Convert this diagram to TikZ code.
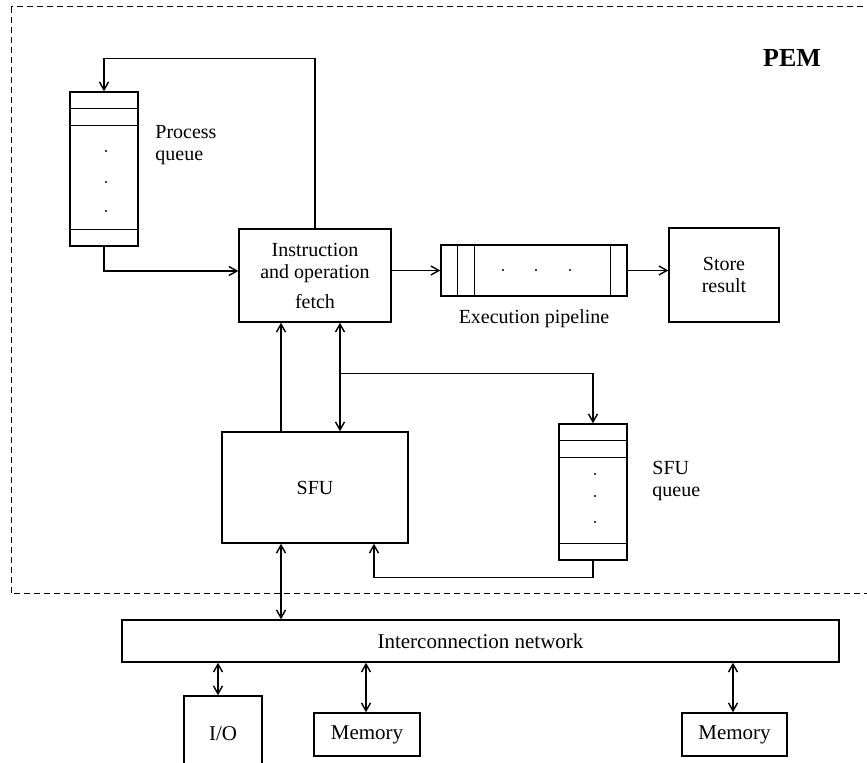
\documentclass[tikz,border=0pt]{standalone}
\usepackage{fontspec}
\setmainfont{Liberation Serif}
\usetikzlibrary{arrows.meta, positioning, calc}

\begin{document}
\begin{tikzpicture}[x=0.5pt, y=-0.5pt,
        box/.style={rectangle, draw, line width=0.7pt, inner sep=0pt, align=center, font=\fontsize{10}{11}\selectfont},
        tag/.style={inner sep=0pt, align=left, font=\fontsize{10}{11}\selectfont},
        wire/.style={line width=0.7pt},
        arrow/.style={-{Straight Barb[length=4pt,width=4.5pt]}, line width=0.7pt},
        biarrow/.style={{Straight Barb[length=4pt,width=4.5pt]}-{Straight Barb[length=4pt,width=4.5pt]}, line width=0.7pt}
    ]
        \path[use as bounding box, clip] (0,0) rectangle (867,763);

        % PEM frame
        \draw[dashed, dash pattern=on 3pt off 2pt, line width=0.5pt] (11,7) rectangle (900,594);
        \node[font=\fontsize{13}{13}\selectfont\bfseries] (pemlabel) at (792,58) {PEM};

        % Nodes
        \node[box, minimum width=34pt, minimum height=77pt] (pq) at (104,169) {};
        \node[tag, anchor=west] (pqlabel) at (155,145) {Process\\queue};
        \node[box, minimum width=76pt, minimum height=46.5pt] (fetch) at (315,275.5) {Instruction\\and operation\\[4pt]fetch};
        \node[box, minimum width=93pt, minimum height=25.5pt] (pipe) at (534,270.5) {};
        \node[tag, below=6.5pt of pipe] (pipelabel) {Execution pipeline};
        \node[box, minimum width=55pt, minimum height=47pt] (store) at (724,275) {Store\\result};
        \node[box, minimum width=93pt, minimum height=55.5pt] (sfu) at (315,487.5) {SFU};
        \node[box, minimum width=34pt, minimum height=68pt] (sq) at (593,492) {};
        \node[tag, anchor=west] (sqlabel) at (652,481) {SFU\\queue};
        \node[box, minimum width=358.5pt, minimum height=21pt, font=\fontsize{10.5}{12}\selectfont] (net) at (480.5,641) {Interconnection network};
        \node[box, minimum width=39pt, minimum height=38pt, font=\fontsize{10.5}{12}\selectfont] (io) at (223,734) {I/O};
        \node[box, minimum width=53pt, minimum height=21.5pt, font=\fontsize{10.5}{12}\selectfont] (mem1) at (367,734.5) {Memory};
        \node[box, minimum width=52.5pt, minimum height=21.5pt, font=\fontsize{10.5}{12}\selectfont] (mem2) at (734.5,734.5) {Memory};

        % Queue and pipeline slots
        \draw[wire] ([yshift=-8.5pt]pq.north west) -- ([yshift=-8.5pt]pq.north east);
        \draw[wire] ([yshift=-17pt]pq.north west) -- ([yshift=-17pt]pq.north east);
        \draw[wire] ([yshift=8.5pt]pq.south west) -- ([yshift=8.5pt]pq.south east);
        \draw[wire] ([yshift=-8.5pt]sq.north west) -- ([yshift=-8.5pt]sq.north east);
        \draw[wire] ([yshift=-17pt]sq.north west) -- ([yshift=-17pt]sq.north east);
        \draw[wire] ([yshift=8.5pt]sq.south west) -- ([yshift=8.5pt]sq.south east);
        \draw[wire] ([xshift=8.5pt]pipe.north west) -- ([xshift=8.5pt]pipe.south west);
        \draw[wire] ([xshift=17pt]pipe.north west) -- ([xshift=17pt]pipe.south west);
        \draw[wire] ([xshift=-8.5pt]pipe.north east) -- ([xshift=-8.5pt]pipe.south east);
        \foreach \y in {151,182,211} \fill (106,\y) circle (0.6pt);
        \foreach \y in {474,496,522} \fill (595,\y) circle (0.6pt);
        \foreach \x in {503,536,570} \fill (\x,270) circle (0.6pt);

        % Connectors
        \draw[arrow] (fetch.north) -- ++(0,-170) -| (pq.north);
        \draw[arrow] (pq.south) |- ([yshift=2.25pt]fetch.west);
        \draw[arrow] (fetch.east |- pipe.west) -- (pipe.west);
        \draw[arrow] (pipe.east) -- (pipe.east -| store.west);
        \draw[arrow] ([xshift=-17pt]sfu.north) -- ([xshift=-17pt]fetch.south);
        \draw[biarrow] ([xshift=12.5pt]fetch.south) -- ([xshift=12.5pt]sfu.north);
        \draw[arrow] ([xshift=12.5pt,yshift=-25.5pt]fetch.south) -| (sq.north);
        \draw[arrow] (sq.south) -- ++(0,17) -| ([xshift=29.5pt]sfu.south);
        \draw[biarrow] ([xshift=-17pt]sfu.south) -- ([xshift=-17pt]sfu.south |- net.north);
        \draw[biarrow] ([xshift=-2.5pt]io.north |- net.south) -- ([xshift=-2.5pt]io.north);
        \draw[biarrow] ([xshift=-0.5pt]mem1.north |- net.south) -- ([xshift=-0.5pt]mem1.north);
        \draw[biarrow] ([xshift=-0.75pt]mem2.north |- net.south) -- ([xshift=-0.75pt]mem2.north);
    \end{tikzpicture}
\end{document}
